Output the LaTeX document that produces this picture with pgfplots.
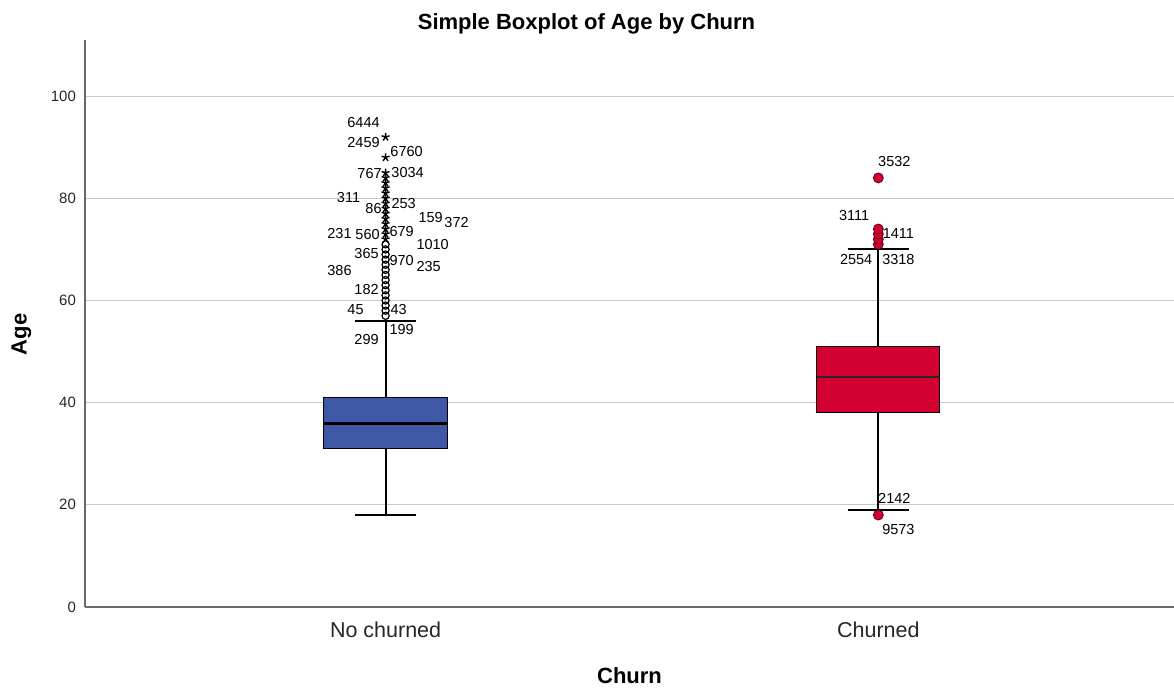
\documentclass[border=0pt]{standalone}
\usepackage{fontspec}
\setmainfont{Liberation Sans}
\usepackage{pgfplots}
\pgfplotsset{compat=1.18}
\definecolor{spssblue}{RGB}{62,88,166}
\definecolor{spssred}{RGB}{213,0,50}
\definecolor{spssredd}{RGB}{90,0,20}
\definecolor{gridgray}{RGB}{200,200,200}
\definecolor{axisgray}{RGB}{105,105,105}
\begin{document}
\begin{tikzpicture}
\begin{axis}[
  name=ax,
  scale only axis, width=544.5pt, height=283.5pt,
  xmin=-0.61, xmax=1.6, ymin=0, ymax=111,
  axis lines*=left,
  axis line style={draw=axisgray, line width=0.6pt},
  xtick={0,1}, xticklabels={No churned, Churned},
  ytick={0,20,40,60,80,100},
  ymajorgrids, grid style={draw=gridgray, line width=0.6pt},
  major tick style={draw=none},
  /pgf/number format/assume math mode=true,
  yticklabel style={font=\fontsize{7.5}{9}\selectfont, text=black!85, xshift=-1pt},
  xticklabel style={font=\fontsize{10.75}{12}\selectfont, text=black!85, yshift=-4pt},
  title={Simple Boxplot of Age by Churn},
  title style={font=\bfseries\fontsize{11}{13}\selectfont, xshift=-21.5pt, yshift=-6.5pt},
  xlabel={Churn},
  xlabel style={font=\bfseries\fontsize{11}{13}\selectfont},
  xlabel shift=8pt,
  ylabel={Age},
  ylabel style={at={(ticklabel cs:0.481)}, font=\bfseries\fontsize{11}{13}\selectfont},
  ylabel shift=3pt,
  clip=false,
]
% No churned box: whiskers, caps, box, median
\addplot[black, line width=1pt] coordinates {(0,18)(0,31)};
\addplot[black, line width=1pt] coordinates {(0,41)(0,56)};
\addplot[black, line width=1pt] coordinates {(-0.0625,18)(0.0625,18)};
\addplot[black, line width=1pt] coordinates {(-0.0625,56)(0.0625,56)};
\addplot[draw=black, line width=0.5pt, fill=spssblue] coordinates {(-0.125,31)(0.125,31)(0.125,41)(-0.125,41)(-0.125,31)};
\addplot[black, line width=1.5pt] coordinates {(-0.125,36)(0.125,36)};
% Churned box
\addplot[black, line width=1pt] coordinates {(1,19)(1,38)};
\addplot[black, line width=1pt] coordinates {(1,51)(1,70)};
\addplot[black, line width=1pt] coordinates {(0.9375,19)(1.0625,19)};
\addplot[black, line width=1pt] coordinates {(0.9375,70)(1.0625,70)};
\addplot[draw=black, line width=0.5pt, fill=spssred] coordinates {(0.875,38)(1.125,38)(1.125,51)(0.875,51)(0.875,38)};
\addplot[black!85, line width=0.9pt] coordinates {(0.875,45)(1.125,45)};
% mild outliers, No churned
\addplot[only marks, mark=o, mark size=1.8pt, mark options={draw=black, fill=white, line width=0.6pt}]
  coordinates {(0,57)(0,58)(0,59)(0,60)(0,61)(0,62)(0,63)(0,64)(0,65)(0,66)(0,67)(0,68)(0,69)(0,70)(0,71)};
% extreme outliers, No churned
\addplot[only marks, mark=star, mark size=2.1pt, mark options={draw=black, line width=0.7pt}]
  coordinates {(0,72)(0,73)(0,74)(0,75)(0,76)(0,77)(0,78)(0,79)(0,80)(0,81)(0,82)(0,83)(0,84)(0,85)(0,88)(0,92)};
% outliers, Churned
\addplot[only marks, mark=*, mark size=2.5pt, mark options={draw=spssredd, fill=spssred, line width=0.4pt}]
  coordinates {(1,71)(1,72)(1,73)(1,74)(1,84)(1,18)};
% case labels
\begin{scope}[every node/.style={inner sep=0pt, font=\fontsize{7.25}{8}\selectfont, text=black}]
\node at (axis cs:-0.0447,94.9) {6444};
\node at (axis cs:-0.0447,91.0) {2459};
\node at (axis cs:0.0427,89.2) {6760};
\node at (axis cs:-0.0325,84.9) {767};
\node at (axis cs:0.0447,85.1) {3034};
\node at (axis cs:-0.0752,80.2) {311};
\node at (axis cs:-0.0244,78.0) {86};
\node at (axis cs:0.0366,79.0) {253};
\node at (axis cs:0.0915,76.3) {159};
\node at (axis cs:0.144,75.3) {372};
\node at (axis cs:-0.0935,73.1) {231};
\node at (axis cs:-0.0366,72.9) {560};
\node at (axis cs:0.0325,73.5) {679};
\node at (axis cs:0.0955,71.0) {1010};
\node at (axis cs:-0.0386,69.2) {365};
\node at (axis cs:0.0325,67.8) {970};
\node at (axis cs:0.0874,66.7) {235};
\node at (axis cs:-0.0935,65.9) {386};
\node at (axis cs:-0.0386,62.2) {182};
\node at (axis cs:-0.061,58.2) {45};
\node at (axis cs:0.0264,58.2) {43};
\node at (axis cs:-0.0386,52.4) {299};
\node at (axis cs:0.0325,54.3) {199};
\node at (axis cs:1.0325,87.3) {3532};
\node at (axis cs:0.951,76.7) {3111};
\node at (axis cs:1.0407,73.1) {1411};
\node at (axis cs:0.955,68.0) {2554};
\node at (axis cs:1.0407,68.0) {3318};
\node at (axis cs:1.0325,21.2) {2142};
\node at (axis cs:1.0407,15.1) {9573};
\end{scope}
\end{axis}
\pgfresetboundingbox
\path ([shift={(-42.5pt,-41pt)}]ax.south west) rectangle ([shift={(0pt,20pt)}]ax.north east);
\end{tikzpicture}
\end{document}
